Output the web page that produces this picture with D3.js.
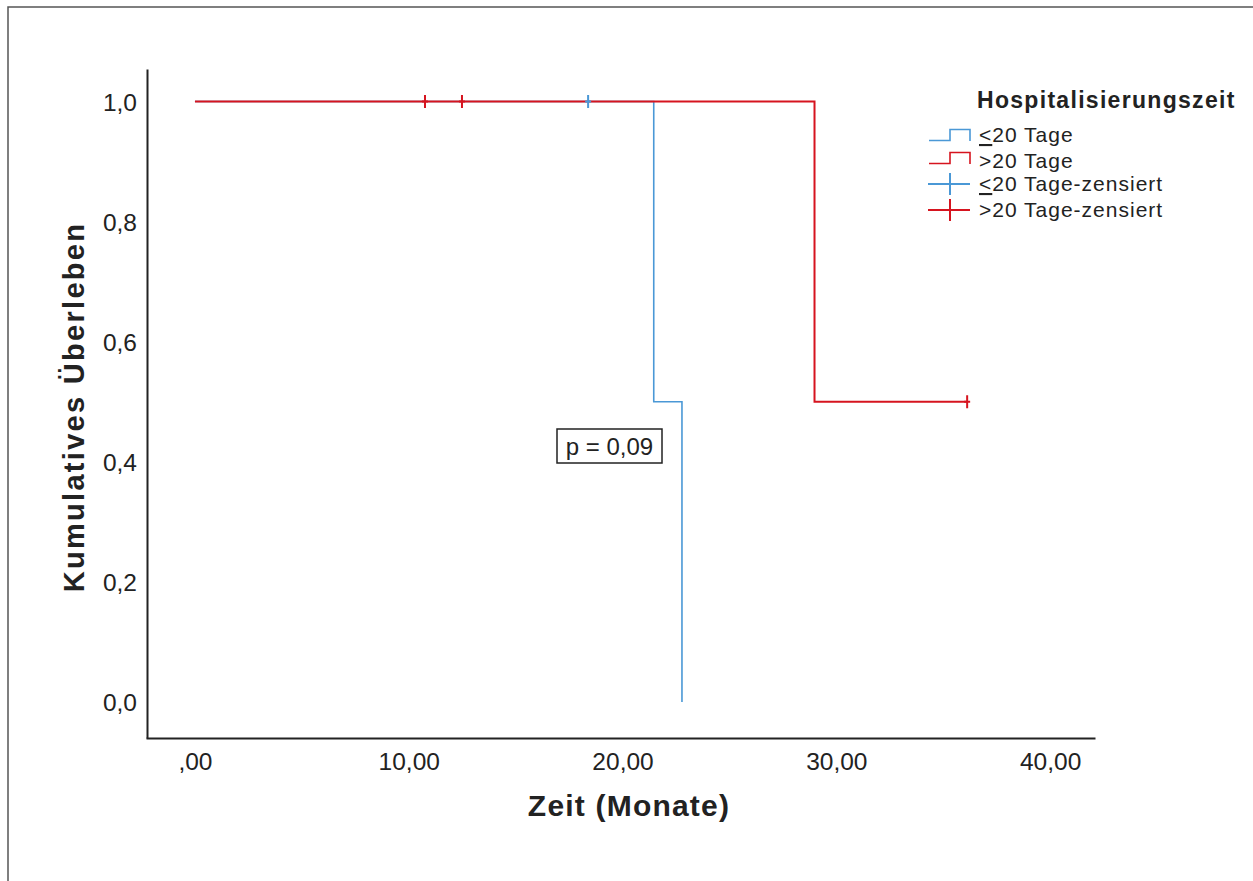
<!DOCTYPE html>
<html>
<head>
<meta charset="utf-8">
<script src="https://cdn.jsdelivr.net/npm/d3@7"></script>
<style>
  html, body { margin: 0; padding: 0; background: #ffffff; }
  svg { display: block; font-family: "Liberation Sans", Arial, sans-serif; }
</style>
</head>
<body>
<svg id="chart" width="1253" height="881"></svg>
<script>
// Kaplan-Meier estimate, survival by hospitalisation time
const groupLabels = ["≤20 Tage", ">20 Tage"];
const groupColors = ["#4a98d6", "#d6141f"];

// step points (time in months, cumulative survival)
const shortTimes = [0, 21.46, 22.78];
const shortSurv  = [1.0, 0.5, 0.0];
const longTimes  = [0, 28.98, 36.12];
const longSurv   = [1.0, 0.5, 0.5];

// censored observations
const shortCensTimes = [18.39];
const shortCensSurv  = [1.0];
const longCensTimes  = [10.76, 12.49, 36.12];
const longCensSurv   = [1.0, 1.0, 0.5];

const xTicks = [0, 10, 20, 30, 40];
const xTickLabels = [",00", "10,00", "20,00", "30,00", "40,00"];
const yTicks = [0, 0.2, 0.4, 0.6, 0.8, 1.0];
const yTickLabels = ["0,0", "0,2", "0,4", "0,6", "0,8", "1,0"];

const legendTitle = "Hospitalisierungszeit";
const pValueText = "p = 0,09";

const svg = d3.select("#chart");
const ink = "#222222";

// outer frame
svg.append("path")
  .attr("d", "M8,881 L8,7 L1253,7")
  .attr("fill", "none")
  .attr("stroke", "#555")
  .attr("stroke-width", 1.5);

const x = d3.scaleLinear().domain([-2.29, 42.1]).range([146, 1095]);
const y = d3.scaleLinear().domain([-0.06, 1.054]).range([738, 69]);

// axes without tick marks
const xAxis = d3.axisBottom(x).tickValues(xTicks).tickSize(0)
  .tickFormat((d, i) => xTickLabels[i]);
const yAxis = d3.axisLeft(y).tickValues(yTicks).tickSize(0)
  .tickFormat((d, i) => yTickLabels[yTicks.indexOf(d)]);

const gx = svg.append("g").attr("transform", "translate(0,738)").call(xAxis);
gx.select(".domain").attr("stroke", ink).attr("stroke-width", 2);
gx.selectAll("text")
  .attr("fill", ink)
  .attr("font-size", 24.5)
  .attr("font-family", "Liberation Sans, Arial, sans-serif")
  .attr("dy", 0)
  .attr("y", 32);

const gy = svg.append("g").attr("transform", "translate(147,0)").call(yAxis);
gy.select(".domain").attr("stroke", ink).attr("stroke-width", 2);
gy.selectAll("text")
  .attr("fill", ink)
  .attr("font-size", 24.5)
  .attr("font-family", "Liberation Sans, Arial, sans-serif")
  .attr("x", -10)
  .attr("dy", "0.35em");

// axis titles
svg.append("text")
  .attr("x", 629).attr("y", 816)
  .attr("text-anchor", "middle")
  .attr("font-size", 30).attr("font-weight", "bold")
  .attr("letter-spacing", 1.2)
  .attr("fill", ink)
  .text("Zeit (Monate)");

svg.append("text")
  .attr("transform", "translate(84,407) rotate(-90)")
  .attr("text-anchor", "middle")
  .attr("font-size", 29).attr("font-weight", "bold")
  .attr("letter-spacing", 2.3)
  .attr("fill", ink)
  .text("Kumulatives Überleben");

// survival curves
const line = d3.line().x(d => x(d[0])).y(d => y(d[1])).curve(d3.curveStepAfter);
const curves = [
  { pts: d3.zip(shortTimes, shortSurv), color: groupColors[0], w: 1.6 },
  { pts: d3.zip(longTimes, longSurv), color: groupColors[1], w: 2 }
];
svg.selectAll("path.curve").data(curves).enter().append("path")
  .attr("class", "curve")
  .attr("d", d => line(d.pts))
  .attr("fill", "none")
  .attr("stroke", d => d.color)
  .attr("stroke-width", d => d.w);

// censor marks
const censors = [
  { pts: d3.zip(shortCensTimes, shortCensSurv), color: groupColors[0] },
  { pts: d3.zip(longCensTimes, longCensSurv), color: groupColors[1] }
];
censors.forEach(c => {
  svg.selectAll(null).data(c.pts).enter().append("path")
    .attr("d", d => `M${x(d[0])},${y(d[1]) - 6.5}V${y(d[1]) + 6.5}M${x(d[0]) - 3},${y(d[1])}H${x(d[0]) + 3}`)
    .attr("fill", "none")
    .attr("stroke", c.color)
    .attr("stroke-width", 2);
});

// p-value box
const pBox = svg.append("g");
pBox.append("rect")
  .attr("x", 557).attr("y", 429).attr("width", 105).attr("height", 34)
  .attr("fill", "#fff").attr("stroke", ink).attr("stroke-width", 1.5);
pBox.append("text")
  .attr("x", 609.5).attr("y", 455)
  .attr("text-anchor", "middle")
  .attr("font-size", 24).attr("fill", ink)
  .text(pValueText);

// legend
const lg = svg.append("g");
lg.append("text")
  .attr("x", 977).attr("y", 108)
  .attr("font-size", 23).attr("font-weight", "bold")
  .attr("letter-spacing", 1.3)
  .attr("fill", ink)
  .text(legendTitle);

const legendItems = [
  { kind: "step", color: groupColors[0], label: groupLabels[0], base: 142, mid: 135 },
  { kind: "step", color: groupColors[1], label: groupLabels[1], base: 168, mid: 158 },
  { kind: "cens", color: groupColors[0], label: groupLabels[0] + "-zensiert", base: 191, mid: 184 },
  { kind: "cens", color: groupColors[1], label: groupLabels[1] + "-zensiert", base: 217, mid: 210 }
];

legendItems.forEach(it => {
  if (it.kind === "step") {
    lg.append("path")
      .attr("d", `M929,${it.mid + 5.5}H950V${it.mid - 5.5}H970V${it.mid + 6}`)
      .attr("fill", "none").attr("stroke", it.color).attr("stroke-width", 1.6);
  } else {
    lg.append("path")
      .attr("d", `M928,${it.mid}H970M950,${it.mid - 11}V${it.mid + 11}`)
      .attr("fill", "none").attr("stroke", it.color).attr("stroke-width", 2);
  }
  const t = lg.append("text")
    .attr("x", 979).attr("y", it.base)
    .attr("font-size", 21).attr("letter-spacing", 1)
    .attr("fill", ink);
  if (it.label.startsWith("≤")) {
    // less-or-equal drawn as an underlined "<"
    t.append("tspan").attr("text-decoration", "underline").text("<");
    t.append("tspan").text(it.label.slice(1));
  } else {
    t.text(it.label);
  }
});
</script>
</body>
</html>
